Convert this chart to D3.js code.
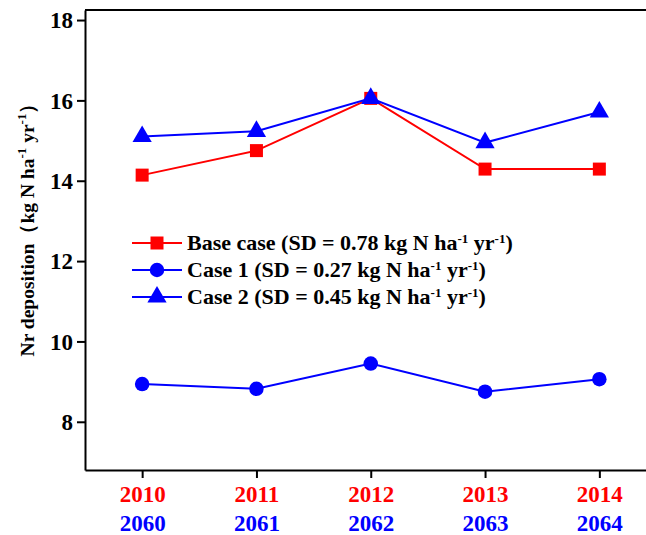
<!DOCTYPE html>
<html><head><meta charset="utf-8">
<script src="https://cdn.jsdelivr.net/npm/d3@7"></script>
<style>body{margin:0;background:#fff}svg{display:block}text{font-family:"Liberation Serif","Times New Roman",serif;font-weight:bold}</style>
</head><body><svg id="c" width="646" height="535"></svg>
<script>
const yearsBase = ["2010","2011","2012","2013","2014"];
const yearsFuture = ["2060","2061","2062","2063","2064"];
const baseCase = [14.14, 14.75, 16.05, 14.29, 14.29];
const case1 = [8.94, 8.82, 9.45, 8.75, 9.06];
const case2 = [15.1, 15.23, 16.05, 14.95, 15.71];
const yTicks = [8, 10, 12, 14, 16, 18];
const seriesNames = ["Base case (SD = 0.78 kg N ha", "Case 1 (SD = 0.27 kg N ha", "Case 2 (SD = 0.45 kg N ha"];

const svg = d3.select("#c");
const x = d3.scaleLinear().domain([-0.5, 4.5]).range([85, 656.5]);
const y = d3.scaleLinear().domain([6.8, 18.25]).range([470, 10]);
const RED = "#ff0000", BLUE = "#0000ff";

// spines
svg.append("line").attr("x1",85).attr("x2",660).attr("y1",y(18.25)).attr("y2",y(18.25)).attr("stroke","#000").attr("stroke-width",2);

const yAxis = svg.append("g").attr("transform","translate(85,0)")
  .call(d3.axisLeft(y).tickValues(yTicks).tickSize(8).tickSizeOuter(0).tickFormat(d3.format("d")));
yAxis.select(".domain").attr("stroke-width",2);
yAxis.selectAll(".tick line").attr("stroke-width",2);
yAxis.selectAll(".tick text").attr("font-size",23).attr("fill","#000").attr("x",-12).attr("dy","0.34em");

const xAxis = svg.append("g").attr("transform","translate(0,470)")
  .call(d3.axisBottom(x).tickValues([0,1,2,3,4]).tickSize(8).tickSizeOuter(0).tickFormat(""));
xAxis.select(".domain").attr("stroke-width",2);
xAxis.selectAll(".tick line").attr("stroke-width",2);
xAxis.selectAll(".tick").each(function(d){
  const g = d3.select(this);
  g.append("text").attr("y",32).attr("text-anchor","middle").attr("font-size",23).attr("fill",RED).text(yearsBase[d]);
  g.append("text").attr("y",61).attr("text-anchor","middle").attr("font-size",23).attr("fill",BLUE).text(yearsFuture[d]);
});

// y title
svg.append("text").attr("transform","translate(34,225) rotate(-90)").attr("text-anchor","middle")
  .attr("font-size",19.5).attr("fill","#000")
  .call(t=>{
    t.append("tspan").text("Nr deposition（kg N ha");
    t.append("tspan").attr("dy",-8).attr("font-size",13).text("-1");
    t.append("tspan").attr("dy",8).text(" yr");
    t.append("tspan").attr("dy",-8).attr("font-size",13).text("-1");
    t.append("tspan").attr("dy",8).text("）");
  });

const line = d3.line().x((d,i)=>x(i)).y(d=>y(d));
const data = [
  {vals: baseCase, color: RED, sym: d3.symbolSquare, size: 169},
  {vals: case1, color: BLUE, sym: d3.symbolCircle, size: 165},
  {vals: case2, color: BLUE, sym: d3.symbolTriangle, size: 160}
];
data.forEach(s=>{
  svg.append("path").attr("d", line(s.vals)).attr("fill","none").attr("stroke",s.color).attr("stroke-width",2);
});
data.forEach(s=>{
  svg.selectAll(null).data(s.vals).enter().append("path")
    .attr("transform",(d,i)=>`translate(${x(i)},${y(d)})`)
    .attr("d", d3.symbol().type(s.sym).size(s.size)()).attr("fill",s.color);
});

// legend
const legY = [243, 270, 297];
data.forEach((s,i)=>{
  const g = svg.append("g").attr("transform",`translate(0,${legY[i]})`);
  g.append("line").attr("x1",132).attr("x2",182).attr("stroke",s.color).attr("stroke-width",2);
  g.append("path").attr("transform","translate(157,0)").attr("d", d3.symbol().type(s.sym).size(s.size)()).attr("fill",s.color);
  const t = g.append("text").attr("x",187).attr("y",7).attr("font-size",22).attr("fill","#000");
  t.append("tspan").text(seriesNames[i]);
  t.append("tspan").attr("dy",-7).attr("font-size",13).text("-1");
  t.append("tspan").attr("dy",7).text(" yr");
  t.append("tspan").attr("dy",-7).attr("font-size",13).text("-1");
  t.append("tspan").attr("dy",7).text(")");
});
</script></body></html>
